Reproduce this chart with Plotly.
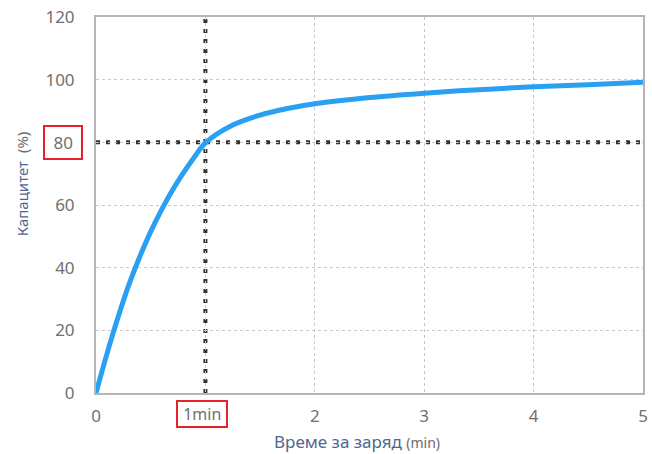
import plotly.graph_objects as go

# Data
time_min = [0, 0.1, 0.2, 0.3, 0.4, 0.5, 0.6, 0.7, 0.8, 0.9, 1.0, 1.25, 1.5, 1.75,
            2.0, 2.5, 3.0, 3.5, 4.0, 4.5, 5.0]
capacity = [0, 12.5, 24, 34.5, 43.5, 51.5, 58.5, 64.8, 70.3, 75.3, 79.8, 85.5, 88.7, 90.8,
            92.3, 94.3, 95.7, 96.8, 97.7, 98.4, 99.2]
x_tick_vals = [0, 1, 2, 3, 4, 5]
x_tick_text = ["0", "", "2", "3", "4", "5"]
y_tick_vals = [0, 20, 40, 60, 80, 100, 120]
y_tick_text = ["0", "20", "40", "60", "", "100", "120"]
marker_x = 1
marker_y = 80

tick_color = "#707070"
title_color = "#4f6790"
font_family = "Noto Sans, Open Sans, sans-serif"

fig = go.Figure()
fig.add_trace(go.Scatter(
    x=time_min, y=capacity, mode="lines",
    line=dict(color="#2aa0f2", width=5, shape="spline", smoothing=1.0),
    showlegend=False, hoverinfo="skip",
))

# dotted reference lines
fig.add_shape(type="line", x0=marker_x, x1=marker_x, y0=0, y1=120, xref="x", yref="y",
              line=dict(color="#333333", width=4, dash="4px,6px"), layer="below")
fig.add_shape(type="line", x0=0, x1=5, y0=marker_y, y1=marker_y, xref="x", yref="y",
              line=dict(color="#333333", width=4, dash="4px,6px"), layer="below")

# boxed labels
fig.add_annotation(x=marker_x, y=0, xref="x", yref="paper", text="&nbsp;1min&nbsp;",
                   showarrow=False, yanchor="top", yshift=-7, xshift=-3,
                   font=dict(size=16, color=tick_color, family=font_family),
                   bordercolor="#e8212b", borderwidth=2, borderpad=1)
fig.add_annotation(x=0, y=marker_y, xref="paper", yref="y", text="&nbsp;80&nbsp;",
                   showarrow=False, xanchor="right", xshift=-13,
                   font=dict(size=17, color=tick_color, family=font_family),
                   bordercolor="#e8212b", borderwidth=2, borderpad=4)

# axis titles
fig.add_annotation(x=0.477, y=0, xref="paper", yref="paper",
                   text="Време за заряд <span style='font-size:14px;color:#6b6b6b'>(min)</span>",
                   showarrow=False, yanchor="middle", yshift=-48,
                   font=dict(size=17, color=title_color, family=font_family))
fig.add_annotation(x=0, y=0.555, xref="paper", yref="paper",
                   text="Капацитет  <span style='color:#6b6b6b'>(%)</span>",
                   showarrow=False, textangle=-90, xanchor="center", xshift=-74,
                   font=dict(size=15, color=title_color, family=font_family))

fig.update_layout(
    width=652, height=454,
    margin=dict(l=96, r=9, t=17, b=61),
    paper_bgcolor="white", plot_bgcolor="white",
    font=dict(family=font_family, color=tick_color),
    xaxis=dict(
        range=[0, 5], tickvals=x_tick_vals, ticktext=x_tick_text, automargin=False,
        showgrid=True, gridcolor="#c8c8c8", griddash="dot", gridwidth=1,
        showline=True, linecolor="#b5b5b5", linewidth=2, mirror=True,
        zeroline=False, ticks="outside", ticklen=7, tickcolor="rgba(0,0,0,0)",
        tickfont=dict(size=17, color=tick_color), ticklabeloverflow="allow",
    ),
    yaxis=dict(
        range=[0, 120], tickvals=y_tick_vals, ticktext=y_tick_text, automargin=False,
        showgrid=True, gridcolor="#c8c8c8", griddash="dot", gridwidth=1,
        showline=True, linecolor="#b5b5b5", linewidth=2, mirror=True,
        zeroline=False, ticks="outside", ticklen=16, tickcolor="rgba(0,0,0,0)",
        tickfont=dict(size=17, color=tick_color), ticklabeloverflow="allow",
    ),
)

# remove the default 8px page margin so the figure fills the 652x454 window
fig.write_html("out.html", config={"displayModeBar": False},
               post_script="document.body.style.margin='0';document.body.style.overflow='hidden';")
